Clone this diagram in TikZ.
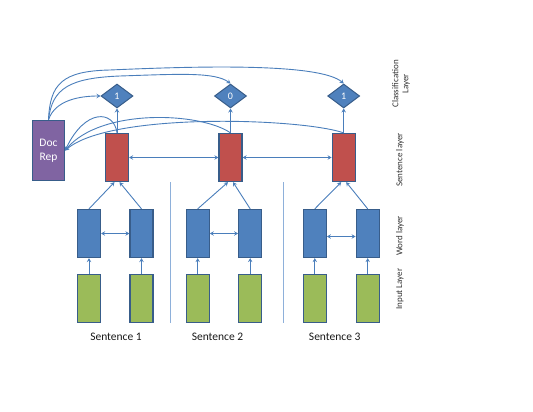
\documentclass[tikz,border=0pt]{standalone}
\usepackage{fontspec}
\setmainfont{Carlito}
\usetikzlibrary{arrows.meta, shapes.geometric, positioning}
\definecolor{LineBlue}{RGB}{74,126,187}
\definecolor{EdgeBlue}{RGB}{56,93,138}
\definecolor{FillBlue}{RGB}{79,129,189}
\definecolor{FillRed}{RGB}{192,80,77}
\definecolor{FillGreen}{RGB}{155,187,89}
\definecolor{FillPurple}{RGB}{128,100,162}
\definecolor{SepBlue}{RGB}{142,176,218}

\begin{document}
\begin{tikzpicture}[x=1pt, y=-1pt,
  cell/.style={
    rectangle, draw=EdgeBlue, fill=#1, line width=1.3pt,
    minimum width=23pt, minimum height=48pt, inner sep=0pt
  },
  docbox/.style={
    rectangle, draw=EdgeBlue, fill=FillPurple, line width=1.3pt,
    minimum width=32pt, minimum height=60pt, inner sep=0pt,
    align=center, text=white, font=\fontsize{11.5}{14}\selectfont
  },
  label/.style={
    diamond, aspect=1.33, draw=EdgeBlue, fill=FillBlue, line width=1pt,
    minimum width=32pt, minimum height=24pt, inner sep=0pt,
    text=white, font=\fontsize{10}{11}\selectfont
  },
  arr/.style={-{Stealth[length=4pt, width=4.5pt, inset=1.5pt]}, LineBlue, line width=0.9pt},
  darr/.style={{Stealth[length=4pt, width=4.5pt, inset=1.5pt]}-{Stealth[length=4pt, width=4.5pt, inset=1.5pt]},
    LineBlue, line width=0.9pt},
  sep/.style={SepBlue, line width=0.9pt},
  layername/.style={rotate=90, align=center, text=black!80,
    font=\fontsize{9}{10}\selectfont},
  sentname/.style={text=black!90, font=\fontsize{11.5}{13}\selectfont}
]
\useasboundingbox (0,0) rectangle (533,412);

%% ===== document representation =====
\node[docbox] (doc) at (48.5,150.5) {Doc\\Rep};

%% ===== classification layer =====
\node[label] (c1) at (117,96) {1};
\node[label] (c2) at (230.5,96) {0};
\node[label] (c3) at (343.7,96) {1};

%% ===== sentence layer =====
\node[cell=FillRed] (s1) at (117,157.5) {};
\node[cell=FillRed] (s2) at (230.5,157.5) {};
\node[cell=FillRed] (s3) at (343.7,157.5) {};

%% ===== word layer =====
\node[cell=FillBlue] (w11) at (89,233.5) {};
\node[cell=FillBlue] (w12) at (141.5,233.5) {};
\node[cell=FillBlue] (w21) at (197.7,233.5) {};
\node[cell=FillBlue] (w22) at (250.2,233.5) {};
\node[cell=FillBlue] (w31) at (314.8,233.5) {};
\node[cell=FillBlue] (w32) at (367.7,233.5) {};

%% ===== input layer =====
\node[cell=FillGreen] (x11) at (89,298.7) {};
\node[cell=FillGreen] (x12) at (141.5,298.7) {};
\node[cell=FillGreen] (x21) at (197.7,298.7) {};
\node[cell=FillGreen] (x22) at (250.2,298.7) {};
\node[cell=FillGreen] (x31) at (314.8,298.7) {};
\node[cell=FillGreen] (x32) at (367.7,298.7) {};

%% ===== sentence names =====
\node[sentname] (n1) at (116,337) {Sentence 1};
\node[sentname] (n2) at (217.5,337) {Sentence 2};
\node[sentname] (n3) at (334.7,337) {Sentence 3};

%% ===== layer names =====
\node[layername] (lc) at (401,84) {Classification\\Layer};
\node[layername] (ls) at (400,160) {Sentence layer};
\node[layername] (lw) at (400,236) {Word layer};
\node[layername] (li) at (400,289) {Input Layer};

%% separators between sentences
\draw[sep] (170,182) -- (170,323);
\draw[sep] (283,182) -- (283,323);

%% ----- input -> word -----
\foreach \i in {11,12,21,22,31,32}
  \draw[arr] (x\i.north) -- (w\i.south);

%% ----- word <-> word -----
\draw[darr] (w11.east) -- (w12.west);
\draw[darr] (w21.east) -- (w22.west);
\draw[darr] ([yshift=-3pt]w31.east) -- ([yshift=-3pt]w32.west);

%% ----- word -> sentence -----
\foreach \s in {1,2,3} {
  \draw[arr] (w\s1.north) -- ([xshift=-2.5pt]s\s.south);
  \draw[arr] (w\s2.north) -- ([xshift=2.5pt]s\s.south);
}

%% ----- sentence <-> sentence -----
\draw[darr] (s1.east) -- (s2.west);
\draw[darr] (s2.east) -- (s3.west);

%% ----- sentence -> classification -----
\foreach \s in {1,2,3}
  \draw[arr] (s\s.north) -- (c\s.south);

%% ----- sentence -> doc rep -----
\draw[arr] (s1.north) .. controls (114,110) and (85,108) .. (doc.east);
\draw[arr] (s2.north) .. controls (200,112) and (100,108) .. (doc.east);
\draw[arr] (s3.north) .. controls (300,118) and (110,112) .. (doc.east);

%% ----- doc rep -> classification -----
\draw[arr] (doc.north) .. controls (55,100) and (80,96) .. (c1.west);
\draw[arr] (doc.north) .. controls (52,88) and (70,78) .. (120,76)
  .. controls (180,74) and (215,72) .. (c2.north);
\draw[arr] (doc.north) .. controls (50,84) and (62,71) .. (110,70)
  .. controls (200,66) and (320,63) .. (c3.north);

\end{tikzpicture}
\end{document}
